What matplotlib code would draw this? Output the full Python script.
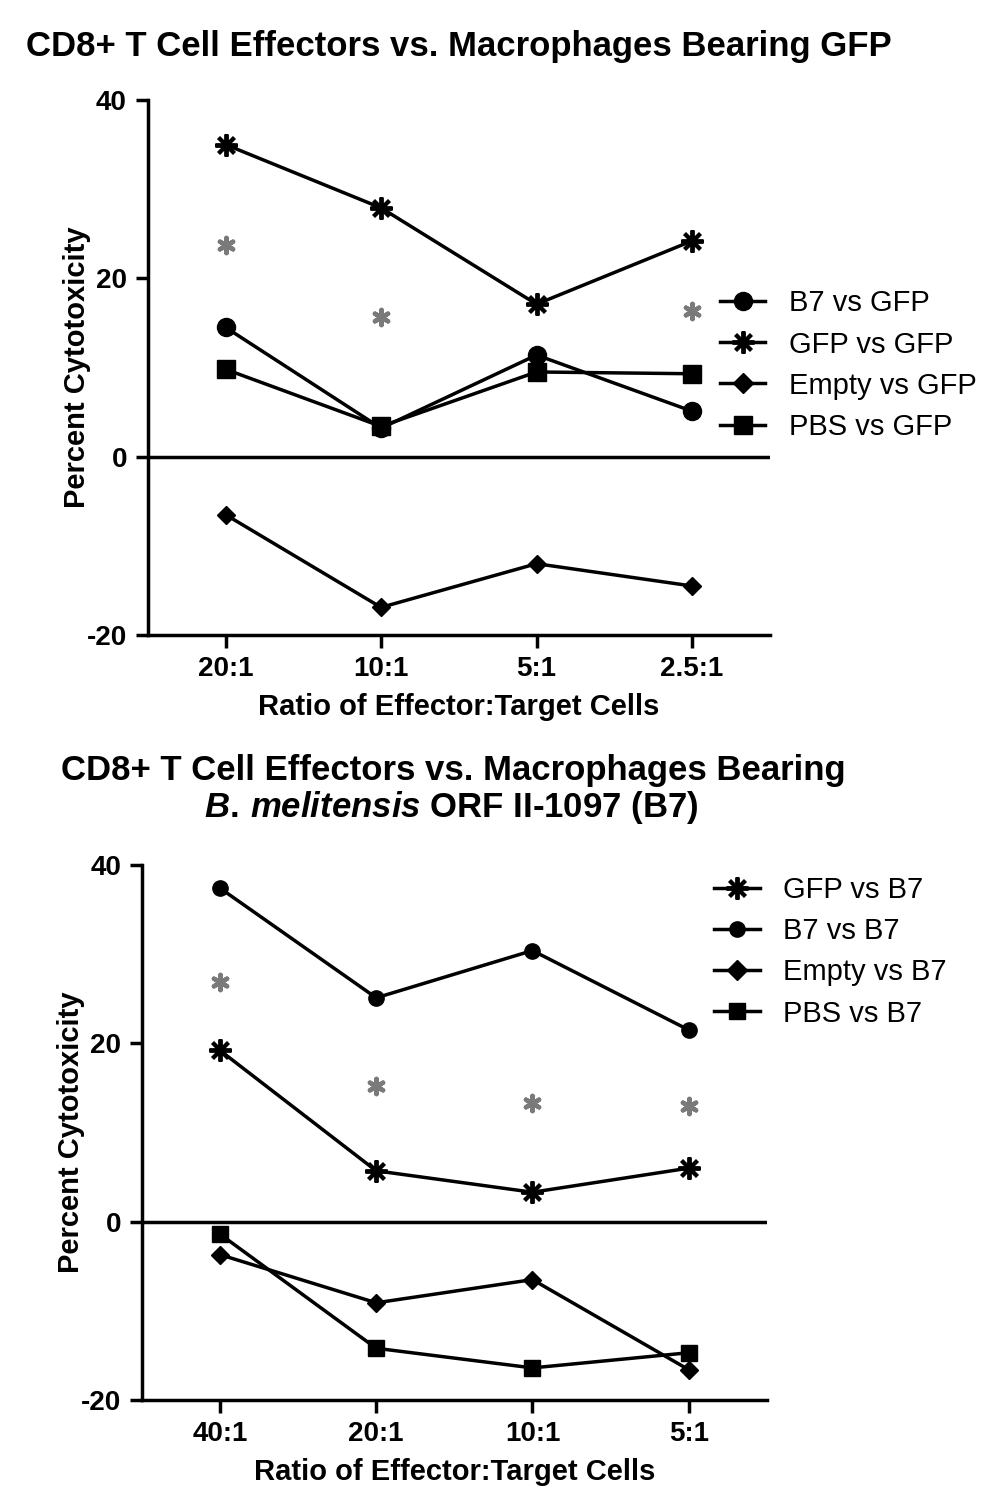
import numpy as np
import matplotlib
matplotlib.use('Agg')
from matplotlib import pyplot as plt
from matplotlib.lines import Line2D

plt.rcParams['font.family'] = ['Liberation Sans', 'DejaVu Sans']
plt.rcParams['axes.unicode_minus'] = False
plt.rcParams['mathtext.fontset'] = 'custom'
plt.rcParams['mathtext.it'] = 'Liberation Sans:italic:bold'
plt.rcParams['mathtext.rm'] = 'Liberation Sans:bold'

# top panel data (targets bearing GFP)
top_ratios = ['20:1', '10:1', '5:1', '2.5:1']
b7_vs_gfp = [14.5, 3.2, 11.4, 5.1]
gfp_vs_gfp = [35.0, 27.9, 17.1, 24.2]
empty_vs_gfp = [-6.5, -16.9, -12.0, -14.5]
pbs_vs_gfp = [9.8, 3.4, 9.5, 9.3]
top_sig = [23.7, 15.7, None, 16.3]

# bottom panel data (targets bearing B7)
bot_ratios = ['40:1', '20:1', '10:1', '5:1']
gfp_vs_b7 = [19.2, 5.7, 3.3, 6.0]
b7_vs_b7 = [37.4, 25.1, 30.4, 21.5]
empty_vs_b7 = [-3.7, -9.1, -6.5, -16.6]
pbs_vs_b7 = [-1.4, -14.2, -16.4, -14.7]
bot_sig = [26.9, 15.2, 13.3, 13.0]

STAR = (8, 2, 0)
SIG = (6, 2, 0)
LW = 2.5

fig = plt.figure(figsize=(9.92, 14.9), dpi=100)
ax1 = fig.add_axes([0.149, 0.5738, 0.627, 0.3591])
ax2 = fig.add_axes([0.143, 0.0604, 0.630, 0.3591])


def style_axis(ax, labels):
    x = np.arange(len(labels))
    ax.set_xlim(-0.5, len(labels) - 0.5)
    ax.set_ylim(-20, 40)
    ax.set_xticks(x)
    ax.set_xticklabels(labels)
    ax.set_yticks([-20, 0, 20, 40])
    for s in ['top', 'right']:
        ax.spines[s].set_visible(False)
    for s in ['left', 'bottom']:
        ax.spines[s].set_linewidth(2.5)
    ax.tick_params(width=2.5, length=9, labelsize=20, pad=6)
    for lab in ax.get_xticklabels() + ax.get_yticklabels():
        lab.set_fontweight('bold')
    ax.axhline(0, color='black', lw=LW, zorder=1)
    ax.set_xlabel('Ratio of Effector:Target Cells', fontsize=21, fontweight='bold', labelpad=8)
    ax.set_ylabel('Percent Cytotoxicity', fontsize=21, fontweight='bold', labelpad=-3)
    return x


def sig_marks(ax, x, vals):
    xs = [xi for xi, v in zip(x, vals) if v is not None]
    ys = [v for v in vals if v is not None]
    ax.scatter(xs, ys, marker=SIG, s=120, color='#7a7a7a', linewidths=3.2, zorder=3)


lkw = dict(color='black', lw=LW, zorder=4)

x = style_axis(ax1, top_ratios)
ax1.plot(x, b7_vs_gfp, marker='o', ms=13, **lkw)
ax1.plot(x, gfp_vs_gfp, marker=STAR, ms=16, mew=2.8, **lkw)
ax1.plot(x, empty_vs_gfp, marker='D', ms=9, **lkw)
ax1.plot(x, pbs_vs_gfp, marker='s', ms=13, **lkw)
sig_marks(ax1, x, top_sig)
h1 = [Line2D([], [], marker='o', ms=13, color='black', lw=LW),
      Line2D([], [], marker=STAR, ms=16, mew=2.8, color='black', lw=LW),
      Line2D([], [], marker='D', ms=10, color='black', lw=LW),
      Line2D([], [], marker='s', ms=13, color='black', lw=LW)]
ax1.legend(h1, ['B7 vs GFP', 'GFP vs GFP', 'Empty vs GFP', 'PBS vs GFP'],
           loc='upper left', bbox_to_anchor=(0.878, 0.695), frameon=False,
           fontsize=21, handlelength=1.55, handletextpad=0.8, labelspacing=0.45)

x = style_axis(ax2, bot_ratios)
ax2.plot(x, gfp_vs_b7, marker=STAR, ms=16, mew=2.8, **lkw)
ax2.plot(x, b7_vs_b7, marker='o', ms=11, **lkw)
ax2.plot(x, empty_vs_b7, marker='D', ms=9, **lkw)
ax2.plot(x, pbs_vs_b7, marker='s', ms=11, **lkw)
sig_marks(ax2, x, bot_sig)
h2 = [Line2D([], [], marker=STAR, ms=16, mew=2.8, color='black', lw=LW),
      Line2D([], [], marker='o', ms=11, color='black', lw=LW),
      Line2D([], [], marker='D', ms=10, color='black', lw=LW),
      Line2D([], [], marker='s', ms=11, color='black', lw=LW)]
ax2.legend(h2, ['GFP vs B7', 'B7 vs B7', 'Empty vs B7', 'PBS vs B7'],
           loc='upper left', bbox_to_anchor=(0.874, 1.028), frameon=False,
           fontsize=21, handlelength=1.55, handletextpad=0.8, labelspacing=0.45)

fig.text(0.463, 0.969, 'CD8+ T Cell Effectors vs. Macrophages Bearing GFP',
         ha='center', va='center', fontsize=25, fontweight='bold')
fig.text(0.457, 0.483, 'CD8+ T Cell Effectors vs. Macrophages Bearing',
         ha='center', va='center', fontsize=25, fontweight='bold')
fig.text(0.455, 0.458, r'$\mathit{B.\,melitensis}$ ORF II-1097 (B7)',
         ha='center', va='center', fontsize=25, fontweight='bold')

fig.savefig('out.png', dpi=100)
